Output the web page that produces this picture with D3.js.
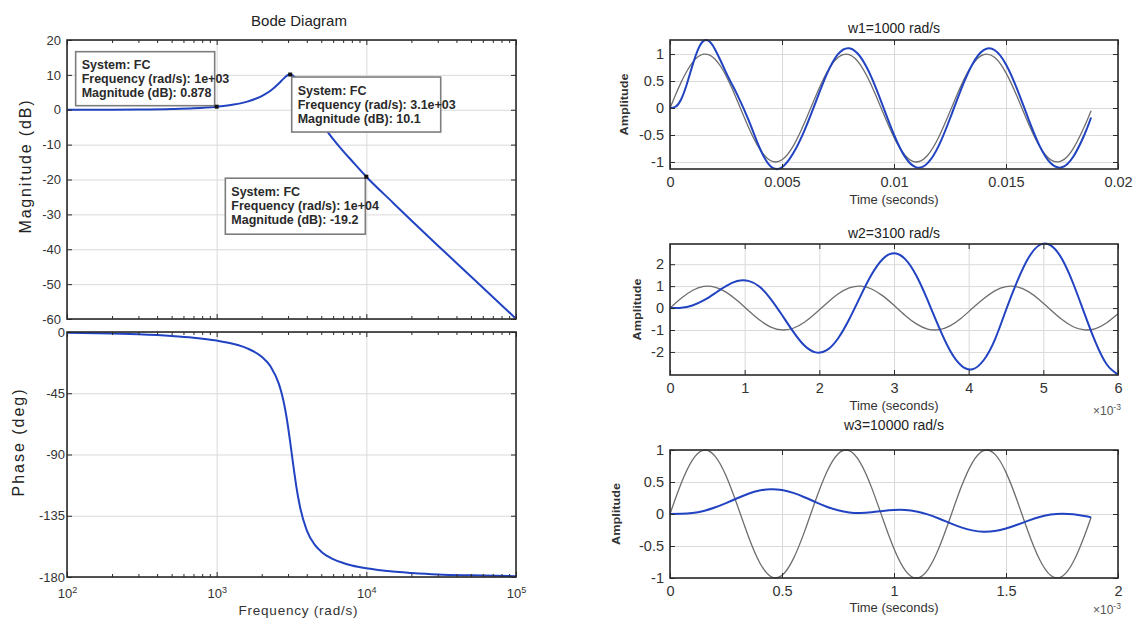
<!DOCTYPE html>
<html><head><meta charset="utf-8">
<script src="https://cdn.jsdelivr.net/npm/d3@7"></script>
<style>body{margin:0;background:#fff} text{font-family:"Liberation Sans",Arial,sans-serif}</style>
</head><body><svg id="c" width="1137" height="619"></svg>
<script>
// ---------------- DATA ----------------
const bodeFreq = [100,200,300,500,700,1000,1300,1600,2000,2300,2600,2700,2800,2900,3000,3100,3200,3300,3400,3600,4000,4500,5000,6000,7000,8000,10000,15000,20000,30000,50000,100000];
const bodeMagDb = [0.01,0.03,0.07,0.21,0.41,0.878,1.48,2.34,3.93,5.53,7.53,8.24,8.93,9.53,9.96,10.1,9.94,9.45,8.71,6.83,3.04,-0.81,-3.83,-8.39,-11.84,-14.63,-19.2,-26.57,-31.73,-38.9,-47.8,-59.9];
const bodePhaseDeg = [-0.57,-1.14,-1.72,-2.92,-4.18,-6.3,-8.8,-12.0,-18.2,-25.6,-37.9,-43.9,-51.1,-59.7,-69.8,-80.9,-92.3,-103.2,-113.0,-128.2,-145.7,-156.0,-161.4,-166.9,-169.7,-171.5,-173.6,-176.0,-177.0,-178.1,-178.8,-179.4];
const bodeMagTicks = [-60,-50,-40,-30,-20,-10,0,10,20];
const bodePhaseTicks = [-180,-135,-90,-45,0];
const bodeFreqTicks = [1e2,1e3,1e4,1e5];
const tipFreq = [1000,3100,10000];
const tipMag = [0.878,10.1,-19.2];
const tipFreqLabel = ["1e+03","3.1e+03","1e+04"];
const tipMagLabel = ["0.878","10.1","-19.2"];

const t1 = [0,0.00025,0.0005,0.00075,0.001,0.00125,0.0015,0.00175,0.002,0.00225,0.0025,0.00275,0.003,0.0035,0.004,0.0045,0.005,0.0055,0.006,0.0065,0.007,0.0075,0.008,0.0085,0.009,0.0095,0.010,0.0105,0.011,0.0115,0.012,0.0125,0.013,0.0135,0.014,0.0145,0.015,0.0155,0.016,0.0165,0.017,0.0175,0.018,0.0185,0.0188];
const u1 = [0,0.2474,0.4794,0.6816,0.8415,0.949,0.9975,0.984,0.9093,0.7781,0.5985,0.3817,0.1411,-0.3508,-0.7568,-0.9775,-0.9589,-0.7055,-0.2794,0.2151,0.657,0.938,0.9894,0.7985,0.4121,-0.0752,-0.544,-0.8797,-1.0,-0.8755,-0.5366,-0.0663,0.4202,0.8038,0.9906,0.9349,0.6503,0.2065,-0.2879,-0.7118,-0.9614,-0.9756,-0.751,-0.3425,-0.0496];
const y1 = [0,0.0238,0.1633,0.4411,0.7858,1.0835,1.2435,1.2362,1.0949,0.8842,0.6606,0.452,0.2478,-0.2151,-0.7362,-1.0834,-1.0984,-0.8403,-0.4182,0.1053,0.627,0.9969,1.1074,0.9469,0.5632,0.0413,-0.4954,-0.9108,-1.1001,-1.0206,-0.696,-0.1941,0.3517,0.8115,1.0725,1.0708,0.8077,0.3458,-0.2001,-0.7008,-1.0244,-1.099,-0.9042,-0.4953,-0.1757];

const t2ms = [0,0.15,0.3,0.45,0.6,0.75,0.9,1.05,1.2,1.35,1.5,1.65,1.8,1.95,2.1,2.25,2.4,2.55,2.7,2.85,3.0,3.15,3.3,3.45,3.6,3.75,3.9,4.05,4.2,4.35,4.5,4.65,4.8,4.95,5.1,5.25,5.4,5.55,5.7,5.85,6.0];
const u2 = [0,0.4484,0.8016,0.9845,0.9585,0.7287,0.3443,-0.113,-0.5466,-0.8651,-0.9981,-0.9199,-0.6462,-0.2359,0.2249,0.6379,0.9156,0.9987,0.8703,0.5558,0.1245,-0.3339,-0.7214,-0.9563,-0.9863,-0.8084,-0.4625,-0.0114,0.4231,0.7843,0.9793,0.9659,0.7479,0.3707,-0.0852,-0.5227,-0.8503,-0.9959,-0.9322,-0.6678,-0.2633];
const y2 = [0,0.0166,0.1199,0.3459,0.6696,1.0037,1.2311,1.2401,0.973,0.4122,-0.3145,-1.0745,-1.709,-2.0198,-1.9193,-1.3857,-0.5105,0.5345,1.5244,2.2366,2.4982,2.231,1.4694,0.3608,-0.8607,-1.9342,-2.6171,-2.7901,-2.3769,-1.4463,-0.0879,1.2173,2.2816,2.8745,2.8588,2.2342,1.12,-0.2436,-1.5676,-2.5724,-3.0315];

const t3ms = [0,0.05,0.1,0.15,0.2,0.25,0.3,0.35,0.4,0.45,0.5,0.55,0.6,0.65,0.7,0.75,0.8,0.85,0.9,0.95,1.0,1.05,1.1,1.15,1.2,1.25,1.3,1.35,1.4,1.45,1.5,1.55,1.6,1.65,1.7,1.75,1.8,1.85,1.88];
const u3 = [0,0.4794,0.8415,0.9975,0.9093,0.5985,0.1411,-0.3508,-0.7568,-0.9775,-0.9589,-0.7055,-0.2794,0.2151,0.657,0.938,0.9894,0.7985,0.4121,-0.0752,-0.544,-0.8797,-1.0,-0.8755,-0.5366,-0.0663,0.4202,0.8038,0.9906,0.9349,0.6503,0.2065,-0.2879,-0.7118,-0.9614,-0.9756,-0.751,-0.3425,-0.0496];
const y3 = [0,0.002,0.0153,0.0476,0.1007,0.1703,0.2464,0.3162,0.3661,0.3868,0.3737,0.3297,0.2624,0.1857,0.1132,0.0572,0.0247,0.0168,0.0278,0.0471,0.063,0.0629,0.0405,-0.0054,-0.0695,-0.1415,-0.2082,-0.2558,-0.2764,-0.2656,-0.2265,-0.1685,-0.1044,-0.0474,-0.0094,0.0045,-0.0056,-0.0327,-0.0532];

const panelTitles = ["w1=1000 rad/s","w2=3100 rad/s","w3=10000 rad/s"];
const xTicks1 = [0,0.005,0.01,0.015,0.02];
const xTickLabels1 = ["0","0.005","0.01","0.015","0.02"];
const xTicks2 = [0,1,2,3,4,5,6];
const xTicks3 = [0,0.5,1,1.5,2];
const yTicks1 = [-1,-0.5,0,0.5,1];
const yTicks2 = [-2,-1,0,1,2];
const yTicks3 = [-1,-0.5,0,0.5,1];

// ---------------- STYLE ----------------
const BLUE="#2143c2", GRAY="#6e6e6e", GRID="#dadada", FRAME="#2a2a2a", TXT="#333";
const svg = d3.select("#c");
svg.append("rect").attr("width",1137).attr("height",619).attr("fill","#fff");

function styleGrid(s){ s.select(".domain").remove(); s.selectAll(".tick line").attr("stroke",GRID).attr("stroke-width",1); }
function styleTicks(s){ s.select(".domain").remove(); s.selectAll(".tick line").attr("stroke",FRAME).attr("stroke-width",1); }

function drawAxesBox(x, y, o){
  const [x0,x1]=x.range(), [yb,yt]=y.range();
  const W=x1-x0, H=yb-yt;
  const g = svg.append("g");
  g.append("g").attr("transform",`translate(0,${yb})`)
    .call(d3.axisBottom(x).tickValues(o.xTicks).tickSize(-H).tickFormat("")).call(styleGrid);
  g.append("g").attr("transform",`translate(${x0},0)`)
    .call(d3.axisLeft(y).tickValues(o.yTicks).tickSize(-W).tickFormat("")).call(styleGrid);
  return g;
}
function drawFrame(x, y, o){
  const [x0,x1]=x.range(), [yb,yt]=y.range();
  const g = svg.append("g");
  const tl = o.tickLen||5;
  g.append("g").attr("transform",`translate(0,${yb})`).call(d3.axisBottom(x).tickValues(o.xTicks).tickSize(-tl).tickFormat("")).call(styleTicks);
  g.append("g").attr("transform",`translate(0,${yt})`).call(d3.axisTop(x).tickValues(o.xTicks).tickSize(-tl).tickFormat("")).call(styleTicks);
  g.append("g").attr("transform",`translate(${x0},0)`).call(d3.axisLeft(y).tickValues(o.yTicks).tickSize(-tl).tickFormat("")).call(styleTicks);
  g.append("g").attr("transform",`translate(${x1},0)`).call(d3.axisRight(y).tickValues(o.yTicks).tickSize(-tl).tickFormat("")).call(styleTicks);
  if(o.minor){
    g.append("g").attr("transform",`translate(0,${yb})`).call(d3.axisBottom(x).tickValues(o.minor).tickSize(-3).tickFormat("")).call(styleTicks);
    g.append("g").attr("transform",`translate(0,${yt})`).call(d3.axisTop(x).tickValues(o.minor).tickSize(-3).tickFormat("")).call(styleTicks);
  }
  g.append("rect").attr("x",x0).attr("y",yt).attr("width",x1-x0).attr("height",yb-yt)
    .attr("fill","none").attr("stroke",FRAME).attr("stroke-width",1.6);
  const yl = g.append("g").attr("transform",`translate(${x0},0)`)
    .call(d3.axisLeft(y).tickValues(o.yTicks).tickSize(0).tickPadding(o.yPad||6).tickFormat(o.yFmt||(d=>String(d))));
  yl.select(".domain").remove();
  yl.selectAll("text").attr("font-size",o.fs||13).attr("fill",TXT).attr("font-family",'"Liberation Sans",Arial,sans-serif');
  if(o.xLabels!==false){
    const xl = g.append("g").attr("transform",`translate(0,${yb})`)
      .call(d3.axisBottom(x).tickValues(o.xTicks).tickSize(0).tickPadding(o.xPad||8).tickFormat(o.xFmt||(d=>String(d))));
    xl.select(".domain").remove();
    xl.selectAll("text").attr("font-size",o.fs||13).attr("fill",TXT).attr("font-family",'"Liberation Sans",Arial,sans-serif');
    return xl;
  }
}

// ---------------- BODE ----------------
const bx = d3.scaleLog().domain([1e2,1e5]).range([67,516]);
const magY = d3.scaleLinear().domain([-60,20]).range([319,40]);
const phY = d3.scaleLinear().domain([-180,0]).range([577,332]);
const minorLog = bx.ticks().filter(v => !bodeFreqTicks.includes(v));

drawAxesBox(bx, magY, {xTicks:bodeFreqTicks, yTicks:bodeMagTicks});
drawAxesBox(bx, phY, {xTicks:bodeFreqTicks, yTicks:bodePhaseTicks});

const bodeMag = bodeFreq.map((f,i)=>({f, v:bodeMagDb[i]}));
const bodePh = bodeFreq.map((f,i)=>({f, v:bodePhaseDeg[i]}));
svg.append("path").datum(bodeMag).attr("fill","none").attr("stroke",BLUE).attr("stroke-width",2)
  .attr("d", d3.line().x(d=>bx(d.f)).y(d=>magY(d.v)).curve(d3.curveMonotoneX));
svg.append("path").datum(bodePh).attr("fill","none").attr("stroke",BLUE).attr("stroke-width",2)
  .attr("d", d3.line().x(d=>bx(d.f)).y(d=>phY(d.v)).curve(d3.curveMonotoneX));

drawFrame(bx, magY, {xTicks:bodeFreqTicks, yTicks:bodeMagTicks, minor:minorLog, xLabels:false, yPad:6, fs:13});
const phX = drawFrame(bx, phY, {xTicks:bodeFreqTicks, yTicks:bodePhaseTicks, minor:minorLog, yPad:2, xPad:12, fs:13});
phX.selectAll("text").each(function(d){
  const t=d3.select(this); t.text(null);
  t.append("tspan").text("10");
  t.append("tspan").attr("dy","-0.55em").attr("font-size","9px").text(Math.round(Math.log10(d)));
});

// datatips
const tipBoxes = [
  {dx:-141, dy:-55, w:139, h:54},
  {dx:1.5, dy:2.5, w:149, h:55},
  {dx:-141, dy:1.5, w:140, h:56}
];
tipFreq.forEach((f,i)=>{
  const px=bx(f), py=magY(tipMag[i]), b=tipBoxes[i];
  const g=svg.append("g");
  const x0=px+b.dx, y0=py+b.dy;
  g.append("rect").attr("x",x0).attr("y",y0).attr("width",b.w).attr("height",b.h)
    .attr("fill","#fff").attr("stroke","#7d7d7d").attr("stroke-width",1.6);
  const lines=["System: FC",`Frequency (rad/s): ${tipFreqLabel[i]}`,`Magnitude (dB): ${tipMagLabel[i]}`];
  lines.forEach((s,k)=>g.append("text").attr("x",x0+6).attr("y",y0+17.5+k*14)
    .attr("font-size",12.5).attr("font-weight","bold").attr("fill","#2a2a2a").text(s));
  g.append("rect").attr("x",px-2).attr("y",py-2).attr("width",4).attr("height",4).attr("fill","#111");
});

svg.append("text").attr("x",299).attr("y",26).attr("text-anchor","middle").attr("font-size",15).attr("fill","#222").text("Bode Diagram");
svg.append("text").attr("transform","translate(31,167) rotate(-90)").attr("text-anchor","middle")
  .attr("font-size",16).attr("fill","#222").attr("textLength",133).attr("lengthAdjust","spacing").text("Magnitude (dB)");
svg.append("text").attr("transform","translate(24,443) rotate(-90)").attr("text-anchor","middle")
  .attr("font-size",16).attr("fill","#222").attr("textLength",107).attr("lengthAdjust","spacing").text("Phase (deg)");
svg.append("text").attr("x",298).attr("y",615).attr("text-anchor","middle")
  .attr("font-size",13.5).attr("fill","#333").attr("textLength",119).attr("lengthAdjust","spacing").text("Frequency (rad/s)");

// ---------------- TIME RESPONSES ----------------
const panels = [
  {t:t1, u:u1, y:y1, xd:[0,0.02], yd:[-1.13,1.26], top:40, bottom:169, xt:xTicks1, yt:yTicks1, xf:(d,i)=>xTickLabels1[i], title:panelTitles[0], titleY:33, ylabX:628, mult:false},
  {t:t2ms, u:u2, y:y2, xd:[0,6], yd:[-3.05,2.92], top:244, bottom:375, xt:xTicks2, yt:yTicks2, title:panelTitles[1], titleY:238, ylabX:641, mult:true, multY:415},
  {t:t3ms, u:u3, y:y3, xd:[0,2], yd:[-1,1], top:450, bottom:578, xt:xTicks3, yt:yTicks3, title:panelTitles[2], titleY:430, ylabX:620, mult:true, multY:614}
];
panels.forEach(p=>{
  const x=d3.scaleLinear().domain(p.xd).range([670,1118]);
  const y=d3.scaleLinear().domain(p.yd).range([p.bottom,p.top]);
  drawAxesBox(x,y,{xTicks:p.xt, yTicks:p.yt});
  const ln=d3.line().x(d=>x(d[0])).y(d=>y(d[1])).curve(d3.curveNatural);
  svg.append("path").datum(p.t.map((v,i)=>[v,p.u[i]])).attr("fill","none").attr("stroke",GRAY).attr("stroke-width",1.3).attr("d",ln);
  svg.append("path").datum(p.t.map((v,i)=>[v,p.y[i]])).attr("fill","none").attr("stroke",BLUE).attr("stroke-width",2).attr("d",ln);
  drawFrame(x,y,{xTicks:p.xt, yTicks:p.yt, yPad:6, xPad:8, fs:14.5, xFmt:p.xf});
  svg.append("text").attr("x",894).attr("y",p.titleY).attr("text-anchor","middle").attr("font-size",14).attr("fill","#222").text(p.title);
  svg.append("text").attr("x",894).attr("y",Math.min(p.bottom+35,612)).attr("text-anchor","middle").attr("font-size",13).attr("fill","#333").text("Time (seconds)");
  svg.append("text").attr("transform",`translate(${p.ylabX},${(p.top+p.bottom)/2}) rotate(-90)`).attr("text-anchor","middle")
    .attr("font-size",11).attr("font-weight","bold").attr("fill","#333").attr("textLength",62).attr("lengthAdjust","spacingAndGlyphs").text("Amplitude");
  if(p.mult){
    const m=svg.append("text").attr("x",1093).attr("y",p.multY).attr("font-size",12).attr("fill","#555");
    m.append("tspan").text("×10");
    m.append("tspan").attr("dy","-0.55em").attr("font-size","8.5px").text("-3");
  }
});
</script></body></html>
